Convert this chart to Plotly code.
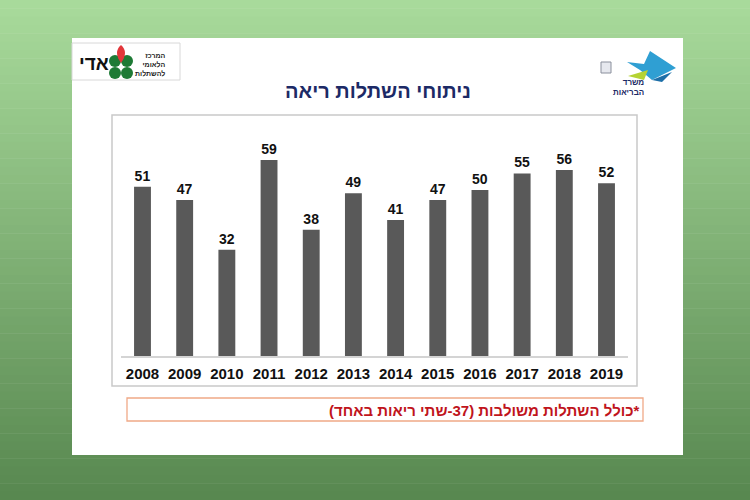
import plotly.graph_objects as go

years = ["2008", "2009", "2010", "2011", "2012", "2013", "2014", "2015", "2016", "2017", "2018", "2019"]
transplants = [51, 47, 32, 59, 38, 49, 41, 47, 50, 55, 56, 52]

title_text = "ניתוחי השתלות ריאה"
footnote_text = "\u200f*כולל השתלות משולבות (37-שתי ריאות באחד)\u200f"

W, H = 750, 500
FONT = "Liberation Sans, Arial, DejaVu Sans, sans-serif"


def px(x):
    return x / W


def py(y):
    return 1 - y / H


shapes = []
# background gradient
top = (168, 218, 155)
bot = (88, 136, 80)
N = 60
for i in range(N):
    t = i / (N - 1)
    c = tuple(int(round(top[k] + (bot[k] - top[k]) * t)) for k in range(3))
    y0 = i * H / N
    y1 = (i + 1) * H / N + 0.5
    shapes.append(dict(type="rect", xref="paper", yref="paper", x0=0, x1=1,
                       y0=py(y1), y1=py(y0), line=dict(width=0),
                       fillcolor="rgb(%d,%d,%d)" % c, layer="below"))
# white card
shapes.append(dict(type="rect", xref="paper", yref="paper", x0=px(72), x1=px(683),
                   y0=py(455), y1=py(38), line=dict(width=0), fillcolor="white", layer="below"))
# chart box
shapes.append(dict(type="rect", xref="paper", yref="paper", x0=px(112), x1=px(637),
                   y0=py(386), y1=py(115), line=dict(width=1.5, color="#c9c9c9"),
                   fillcolor="white", layer="below"))
# footnote box
shapes.append(dict(type="rect", xref="paper", yref="paper", x0=px(127), x1=px(643),
                   y0=py(421), y1=py(398), line=dict(width=1.3, color="#f0a987"),
                   fillcolor="white", layer="below"))
# left logo box
shapes.append(dict(type="rect", xref="paper", yref="paper", x0=px(72), x1=px(180),
                   y0=py(80), y1=py(43), line=dict(width=1, color="#d8d8d8"),
                   fillcolor="white", layer="below"))
# clover leaves
for dx, dy in [(-6, -4), (6, -4), (-6, 8), (6, 8)]:
    cx, cy, r = 121 + dx, 65 + dy, 6
    shapes.append(dict(type="circle", xref="paper", yref="paper",
                       x0=px(cx - r), x1=px(cx + r), y0=py(cy + r), y1=py(cy - r),
                       line=dict(width=0), fillcolor="#1e7a35", layer="above"))
# red drop
shapes.append(dict(type="path", xref="paper", yref="paper",
                   path="M %f,%f Q %f,%f %f,%f Q %f,%f %f,%f Z" % (
                       px(121), py(63), px(113), py(52), px(121), py(45),
                       px(129), py(52), px(121), py(63)),
                   line=dict(width=0), fillcolor="#e2363a", layer="above"))
# ministry emblem
shapes.append(dict(type="rect", xref="paper", yref="paper", x0=px(601), x1=px(611),
                   y0=py(73), y1=py(62), line=dict(width=1, color="#8a8f9c"),
                   fillcolor="#e6e8ee", layer="above"))
# star shape (blue)
shapes.append(dict(type="path", xref="paper", yref="paper",
                   path="M %f,%f L %f,%f L %f,%f L %f,%f L %f,%f L %f,%f Z" % (
                       px(627), py(62), px(644), py(64), px(650), py(51),
                       px(676), py(68), px(652), py(80), px(640), py(70)),
                   line=dict(width=0), fillcolor="#2f9fd3", layer="above"))
# yellow-green accent
shapes.append(dict(type="path", xref="paper", yref="paper",
                   path="M %f,%f L %f,%f L %f,%f Z" % (
                       px(628), py(76), px(648), py(70), px(644), py(80)),
                   line=dict(width=0), fillcolor="#b5d334", layer="above"))
shapes.append(dict(type="path", xref="paper", yref="paper",
                   path="M %f,%f L %f,%f L %f,%f Z" % (
                       px(652), py(80), px(672), py(72), px(662), py(82)),
                   line=dict(width=0), fillcolor="#1d6fa8", layer="above"))

annotations = [
    dict(x=px(378), y=py(91), xref="paper", yref="paper", text=title_text,
         showarrow=False, xanchor="center", yanchor="middle",
         font=dict(family=FONT, size=20, color="#1c2a66", weight="bold")),
    dict(x=px(642), y=py(410), xref="paper", yref="paper", text=footnote_text,
         showarrow=False, xanchor="right", yanchor="middle",
         font=dict(family=FONT, size=15, color="#c0141c", weight="bold")),
    dict(x=px(94), y=py(63), xref="paper", yref="paper", text="אדי",
         showarrow=False, xanchor="center", yanchor="middle",
         font=dict(family=FONT, size=19, color="#111111", weight="bold")),
    dict(x=px(150), y=py(64), xref="paper", yref="paper",
         text="המרכז<br>הלאומי<br>להשתלות",
         showarrow=False, xanchor="center", yanchor="middle", align="right",
         font=dict(family=FONT, size=7, color="#222222", weight="bold")),
    dict(x=px(628), y=py(88), xref="paper", yref="paper",
         text="משרד<br>הבריאות",
         showarrow=False, xanchor="center", yanchor="middle", align="right",
         font=dict(family=FONT, size=8, color="#1c2a66", weight="bold")),
]

fig = go.Figure()
fig.add_trace(go.Bar(
    x=years, y=transplants, marker=dict(color="#595959", line=dict(width=0)),
    width=0.4, text=transplants, textposition="outside", cliponaxis=False,
    textfont=dict(family=FONT, size=14, color="#111111", weight="bold"),
    hoverinfo="skip",
))

fig.update_layout(
    width=W, height=H, margin=dict(l=0, r=0, t=0, b=0),
    paper_bgcolor="white", plot_bgcolor="rgba(0,0,0,0)",
    showlegend=False, shapes=shapes, annotations=annotations,
    xaxis=dict(domain=[px(121.4), px(627.6)], type="category",
               showline=True, linecolor="#d4d4d4", linewidth=1.5,
               showgrid=False, zeroline=False, ticks="",
               tickfont=dict(family=FONT, size=15, color="#111111", weight="bold"),
               ticklabelstandoff=3),
    yaxis=dict(domain=[py(356), py(123.6)], range=[0, 70], visible=False),
)

fig.write_html("out.html")
